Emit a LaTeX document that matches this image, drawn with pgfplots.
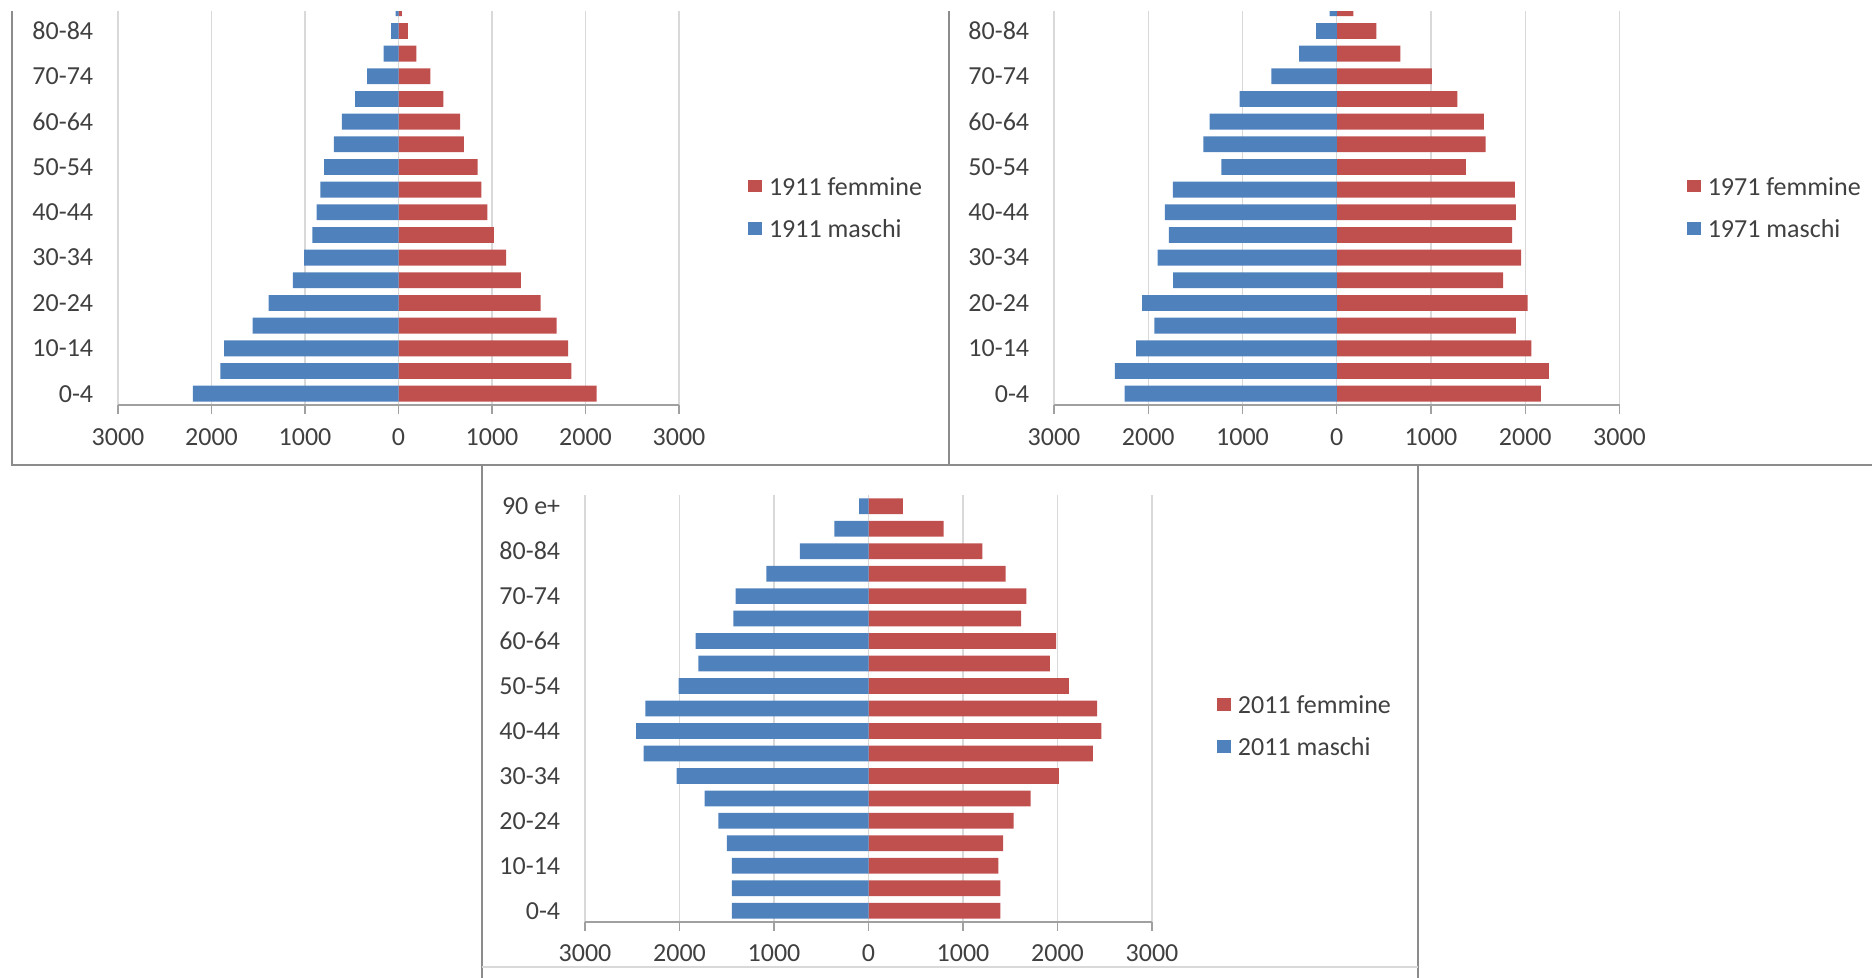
\documentclass[border=0pt]{standalone}
\usepackage{fontspec}
\setmainfont{Carlito}
\usepackage{pgfplots}
\usepackage{pgfplotstable}
\pgfplotsset{compat=1.18}
\definecolor{mblue}{HTML}{4F81BD}
\definecolor{fred}{HTML}{C0504D}
\definecolor{txt}{HTML}{404040}
\definecolor{gridc}{HTML}{D9D9D9}
\definecolor{axc}{HTML}{A0A0A0}
\definecolor{framec}{HTML}{8C8C8C}

% y = age class index (0 = 0-4 ... 18 = 90 e+), m = maschi (negative side), f = femmine
\pgfplotstableread{
y m f
0 -2200 2120
1 -1905 1850
2 -1865 1815
3 -1560 1690
4 -1390 1520
5 -1130 1310
6 -1010 1150
7 -920 1020
8 -875 950
9 -835 885
10 -795 845
11 -690 700
12 -605 660
13 -465 480
14 -335 340
15 -160 190
16 -80 100
17 -30 35
18 -5 8
}\tabA

\pgfplotstableread{
y m f
0 -2250 2165
1 -2355 2250
2 -2130 2065
3 -1935 1900
4 -2065 2025
5 -1735 1765
6 -1900 1955
7 -1780 1860
8 -1825 1900
9 -1740 1890
10 -1225 1370
11 -1415 1580
12 -1350 1560
13 -1030 1280
14 -695 1010
15 -400 675
16 -220 420
17 -75 175
18 -15 40
}\tabB

\pgfplotstableread{
y m f
0 -1445 1395
1 -1445 1395
2 -1445 1375
3 -1500 1425
4 -1590 1535
5 -1735 1715
6 -2030 2015
7 -2380 2375
8 -2460 2465
9 -2360 2420
10 -2010 2120
11 -1800 1920
12 -1830 1985
13 -1430 1615
14 -1405 1670
15 -1080 1450
16 -725 1205
17 -360 795
18 -100 365
}\tabC

\pgfplotsset{pyr/.style={
  scale only axis, xbar, bar shift=0pt, bar width=0.7,
  xmin=-3000, xmax=3000, ymin=-0.5, ymax=18.5,
  xtick={-3000,-2000,-1000,0,1000,2000,3000},
  xticklabels={3000,2000,1000,0,1000,2000,3000},
  ytick={0,2,...,16},
  yticklabels={0-4,10-14,20-24,30-34,40-44,50-54,60-64,70-74,80-84},
  xmajorgrids, grid style={gridc, line width=0.6pt},
  axis x line*=bottom, axis y line*=left,
  x axis line style={axc, line width=0.8pt, -},
  y axis line style={draw=none},
  tick align=outside,
  xtick style={axc, line width=0.6pt}, major tick length=4.5pt,
  ytick style={draw=none},
  tick label style={font=\fontsize{13pt}{15pt}\selectfont, text=txt},
  yticklabel style={xshift=-4.4pt},
  xticklabel style={yshift=-3.8pt},
  legend cell align=left,
  legend style={draw=none, fill=none, inner sep=0pt, outer sep=0pt, anchor=north west,
    font=\fontsize{13pt}{15pt}\selectfont, text=txt,
    nodes={inner sep=0pt, text height=9pt, text depth=2pt},
    column sep=3.5pt, row sep=10.2pt},
  legend image code/.code={\fill[##1] (0pt,-2.1pt) rectangle (7pt,4.3pt);},
}}

\begin{document}
\begin{tikzpicture}
\useasboundingbox (0,0) rectangle (936pt,489pt);
\begin{scope}
\clip (0,0) rectangle (936pt,483pt);
% panel frames
\draw[framec, line width=1pt] (6pt,495pt) -- (6pt,256.5pt) -- (940pt,256.5pt);
\draw[framec, line width=1pt] (474.5pt,495pt) -- (474.5pt,256.5pt);
\draw[framec, line width=1pt] (241pt,256.5pt) -- (241pt,-2pt);
\draw[framec, line width=1pt] (709pt,256.5pt) -- (709pt,-2pt);
\draw[gridc, line width=0.6pt] (241pt,5.5pt) -- (709pt,5.5pt);

% 1911
\begin{axis}[pyr, at={(59pt,286.5pt)}, anchor=south west,
  width=280.5pt, height=215.35pt,
  legend style={at={(1.123,0.5291)}}]
\addplot[draw=none, fill=fred] table[x=f, y=y] {\tabA};
\addlegendentry{1911 femmine}
\addplot[draw=none, fill=mblue] table[x=m, y=y] {\tabA};
\addlegendentry{1911 maschi}
\end{axis}

% 1971
\begin{axis}[pyr, at={(527pt,286.5pt)}, anchor=south west,
  width=282.75pt, height=215.35pt,
  legend style={at={(1.119,0.5291)}}]
\addplot[draw=none, fill=fred] table[x=f, y=y] {\tabB};
\addlegendentry{1971 femmine}
\addplot[draw=none, fill=mblue] table[x=m, y=y] {\tabB};
\addlegendentry{1971 maschi}
\end{axis}

% 2011
\begin{axis}[pyr, at={(292.5pt,28pt)}, anchor=south west,
  width=283.5pt, height=213.5pt,
  ytick={0,2,...,18},
  yticklabels={0-4,10-14,20-24,30-34,40-44,50-54,60-64,70-74,80-84,90 e+},
  xticklabel style={yshift=0.4pt},
  legend style={at={(1.1146,0.5306)}}]
\addplot[draw=none, fill=fred] table[x=f, y=y] {\tabC};
\addlegendentry{2011 femmine}
\addplot[draw=none, fill=mblue] table[x=m, y=y] {\tabC};
\addlegendentry{2011 maschi}
\end{axis}
\end{scope}
\end{tikzpicture}
\end{document}
